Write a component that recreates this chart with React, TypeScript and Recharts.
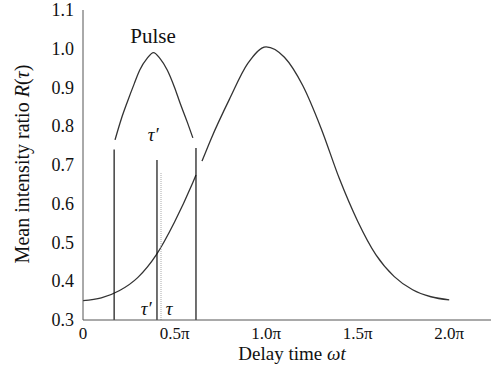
import React from "react";
import { LineChart, Line, XAxis, YAxis, ReferenceDot } from "recharts";

// delay time in units of pi
const mainX = [0, 0.1, 0.2, 0.3, 0.4, 0.5, 0.6, 0.617, 0.635, 0.65, 0.7, 0.8, 0.9, 1.0, 1.1, 1.2, 1.3, 1.4, 1.5, 1.6, 1.7, 1.8, 1.9, 2.0];
const mainR = [0.35, 0.357, 0.376, 0.41, 0.468, 0.553, 0.655, 0.674, null, 0.71, 0.768, 0.87, 0.962, 1.005, 0.978, 0.905, 0.795, 0.665, 0.555, 0.468, 0.412, 0.378, 0.36, 0.352];

const pulseX = [0.175, 0.21, 0.24, 0.28, 0.31, 0.35, 0.385, 0.42, 0.46, 0.5, 0.53, 0.57, 0.6];
const pulseR = [0.765, 0.82, 0.86, 0.91, 0.945, 0.975, 0.99, 0.975, 0.945, 0.9, 0.86, 0.81, 0.77];

// vertical markers: position and top value
const markX = [0.17, 0.404, 0.617];
const markTop = [0.74, 0.713, 0.744];
const dottedX = 0.426;
const dottedTop = 0.68;

const xMajor = [0, 0.5, 1, 1.5, 2];
const xMajorLabels = ["0", "0.5π", "1.0π", "1.5π", "2.0π"];
const xMinor = [0, 0.25, 0.5, 0.75, 1, 1.25, 1.5, 1.75, 2];
const yTicks = [0.3, 0.4, 0.5, 0.6, 0.7, 0.8, 0.9, 1.0, 1.1];

const X_MAX = 7 / Math.PI;
const FONT = "Liberation Serif, serif";

const mainData = mainX.map((x, i) => ({ x, r: mainR[i] }));
const pulseData = pulseX.map((x, i) => ({ x, r: pulseR[i] }));
const markData = markX.map((x, i) => [
  { x, r: 0.3 },
  { x, r: markTop[i] },
]);
const dottedData = [
  { x: dottedX, r: 0.3 },
  { x: dottedX, r: dottedTop },
];

const fmtX = (v: number) => {
  const i = xMajor.indexOf(v);
  return i >= 0 ? xMajorLabels[i] : "";
};

const blank = () => "";
const axisColor = "#555";

const XTick = (props: any) => (
  <text x={props.x} y={props.y} dy="0.71em" textAnchor="middle" fontFamily={FONT} fontSize={17} fill="#111">
    {fmtX(props.payload.value)}
  </text>
);

const YTick = (props: any) => (
  <text x={props.x} y={props.y} dy="0.34em" textAnchor="end" fontFamily={FONT} fontSize={18} fill="#111">
    {Number(props.payload.value).toFixed(1)}
  </text>
);

const noteStyle = { fontFamily: FONT, fontSize: 19, fontStyle: "italic", fill: "#111" };

export default function App() {
  return (
    <div style={{ position: "absolute", left: 0, top: 0, width: 492, height: 367, background: "#fff" }}>
      <LineChart width={492} height={367} margin={{ top: 10, right: 1, left: 0, bottom: 0 }}>
        <XAxis xAxisId="bt" type="number" dataKey="x" domain={[0, X_MAX]} ticks={xMinor}
          orientation="bottom" mirror height={0} tickSize={3} tickFormatter={blank}
          axisLine={false} tickLine={{ stroke: "#888" }} />
        <XAxis type="number" dataKey="x" domain={[0, X_MAX]} ticks={xMajor}
          height={47} tickLine={false} tickSize={0} tickMargin={7}
          axisLine={{ stroke: axisColor }} tick={XTick} allowDataOverflow />
        <XAxis xAxisId="top" type="number" dataKey="x" domain={[0, X_MAX]} ticks={xMinor}
          orientation="top" mirror height={0} tickSize={3} tickFormatter={blank}
          axisLine={{ stroke: axisColor }} tickLine={{ stroke: "#888" }} />
        <YAxis yAxisId="lt" type="number" domain={[0.3, 1.1]} ticks={yTicks} mirror width={0}
          tickSize={3} tickFormatter={blank} axisLine={false} tickLine={{ stroke: "#888" }} />
        <YAxis type="number" domain={[0.3, 1.1]} ticks={yTicks} width={83}
          tickLine={false} tickSize={0} tickMargin={9}
          axisLine={{ stroke: axisColor }} tick={YTick} allowDataOverflow />
        <YAxis yAxisId="rt" orientation="right" type="number" domain={[0.3, 1.1]} ticks={yTicks}
          mirror width={0} tickSize={3} tickFormatter={blank}
          axisLine={{ stroke: axisColor }} tickLine={{ stroke: "#888" }} />

        <Line data={mainData} dataKey="r" type="monotone" stroke="#333" strokeWidth={1.3}
          dot={false} isAnimationActive={false} />
        <Line data={pulseData} dataKey="r" type="monotone" stroke="#333" strokeWidth={1.3}
          dot={false} isAnimationActive={false} />
        {markData.map((d, i) => (
          <Line key={i} data={d} dataKey="r" type="linear" stroke="#111" strokeWidth={1.2}
            dot={false} isAnimationActive={false} />
        ))}
        <Line data={dottedData} dataKey="r" type="linear" stroke="#aaa" strokeWidth={1}
          strokeDasharray="1 1" dot={false} isAnimationActive={false} />

        <ReferenceDot x={0.383} y={1.033} r={0} fill="none" stroke="none"
          label={{ value: "Pulse", position: "center", fontFamily: FONT, fontSize: 21, fill: "#111" }} />
        <ReferenceDot x={0.383} y={0.78} r={0} fill="none" stroke="none"
          label={{ value: "τ′", position: "center", ...noteStyle }} />
        <ReferenceDot x={0.345} y={0.331} r={0} fill="none" stroke="none"
          label={{ value: "τ′", position: "center", ...noteStyle }} />
        <ReferenceDot x={0.47} y={0.331} r={0} fill="none" stroke="none"
          label={{ value: "τ", position: "center", ...noteStyle }} />
      </LineChart>
      <svg width={492} height={367} style={{ position: "absolute", left: 0, top: 0, pointerEvents: "none" }}>
        <text x={292} y={360} textAnchor="middle" fontFamily={FONT} fontSize={19} fill="#111">
          Delay time <tspan fontStyle="italic">ωt</tspan>
        </text>
        <text transform="translate(29,164) rotate(-90)" textAnchor="middle" fontFamily={FONT} fontSize={20} fill="#111">
          Mean intensity ratio <tspan fontStyle="italic">R</tspan>(<tspan fontStyle="italic">τ</tspan>)
        </text>
      </svg>
    </div>
  );
}
